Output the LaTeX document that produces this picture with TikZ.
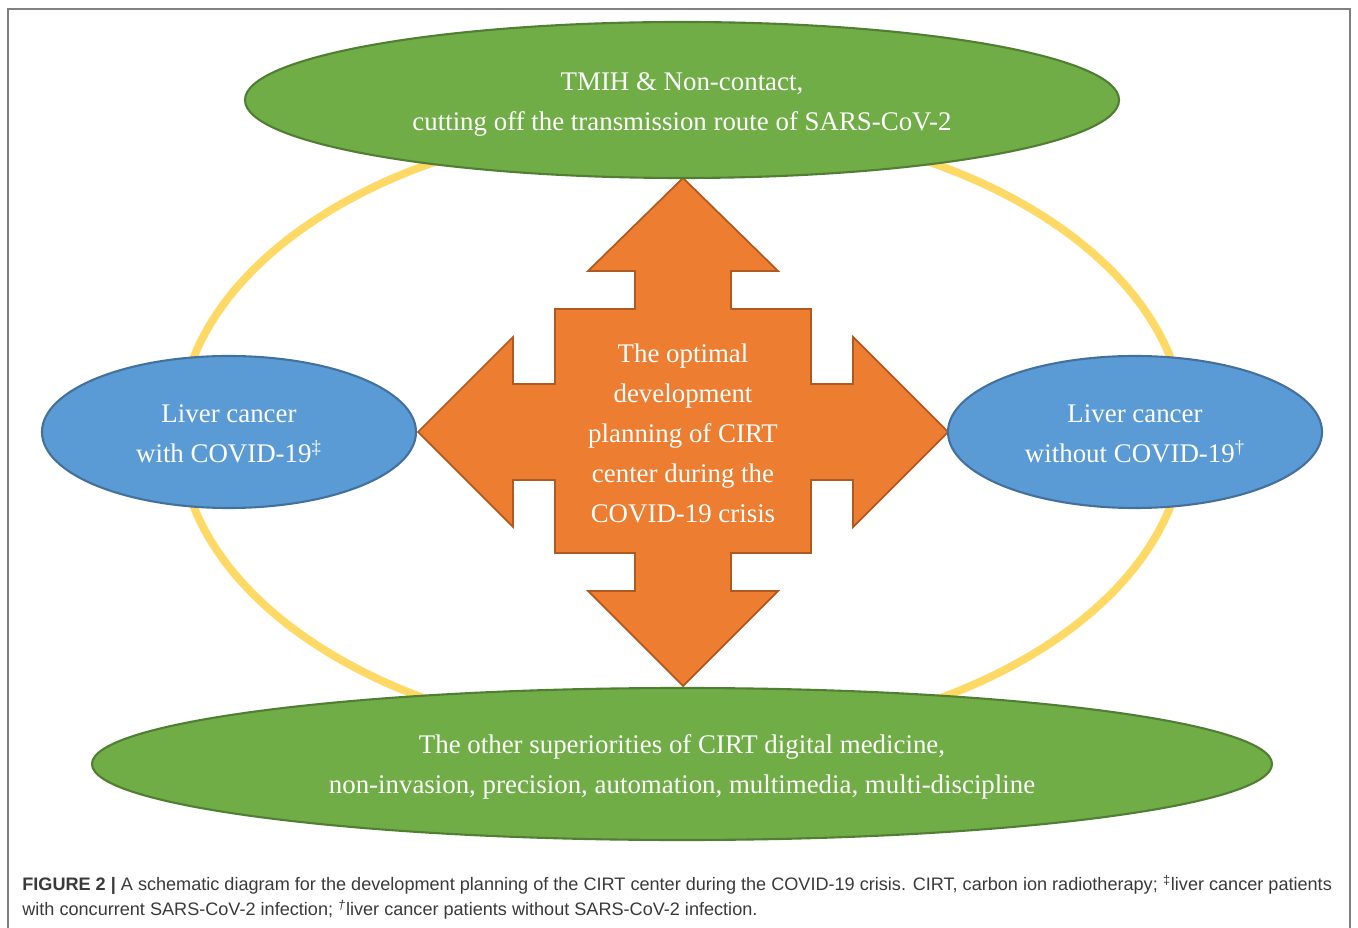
\documentclass[tikz,border=0pt]{standalone}
\usepackage{fontspec}
\setmainfont{Liberation Serif}
\setsansfont{Liberation Sans}
\definecolor{leafgreen}{HTML}{70AD47}
\definecolor{leafedge}{HTML}{507E32}
\definecolor{skyblue}{HTML}{5B9BD5}
\definecolor{skyedge}{HTML}{41719C}
\definecolor{planorange}{HTML}{ED7D31}
\definecolor{planedge}{HTML}{AE5A21}
\definecolor{ringyellow}{HTML}{FFD966}
\definecolor{captiongray}{HTML}{3A3A3A}
\tikzset{
  boxtext/.style={text=white, align=center, font=\fontsize{15.3}{22.8}\selectfont, inner sep=0pt},
  greenbox/.style={fill=leafgreen, draw=leafedge, line width=1.2pt},
  bluebox/.style={fill=skyblue, draw=skyedge, line width=1.2pt},
}
\begin{document}
\begin{tikzpicture}[x=0.02cm,y=-0.02cm]
\useasboundingbox (0,0) rectangle (1358,928);
% Frame
\draw[gray, line width=1pt] (8,935) -- (8,9) -- (1350,9) -- (1350,935);
% Yellow ring
\draw[ringyellow, line width=4.5pt] (682,432) ellipse [x radius=503, y radius=310];
% Four-way arrow
\filldraw[fill=planorange, draw=planedge, line width=1pt, line join=miter]
  (683,178) -- (778,271) -- (731,271) -- (731,309) -- (811,309) -- (811,384)
  -- (853,384) -- (853,337) -- (948,432) -- (853,527) -- (853,480) -- (811,480)
  -- (811,553) -- (731,553) -- (731,591) -- (778,591) -- (683,686) -- (588,591)
  -- (635,591) -- (635,553) -- (555,553) -- (555,480) -- (513,480) -- (513,527)
  -- (418,432) -- (513,337) -- (513,384) -- (555,384) -- (555,309) -- (635,309)
  -- (635,271) -- (588,271) -- cycle;
\node[boxtext] (planning) at (683,433) {The optimal\\development\\planning of CIRT\\center during the\\COVID-19 crisis};
% Ellipses
\filldraw[greenbox] (682,100) ellipse [x radius=437, y radius=78];
\node[boxtext] (noncontact) at (682,104) {TMIH \& Non-contact,\\cutting off the transmission route of SARS-CoV-2};
\filldraw[greenbox] (682,764) ellipse [x radius=590, y radius=76];
\node[boxtext] (superiority) at (682,767) {The other superiorities of CIRT digital medicine,\\non-invasion, precision, automation, multimedia, multi-discipline};
\filldraw[bluebox] (229,432) ellipse [x radius=187, y radius=76];
\node[boxtext] (withcovid) at (229,434) {Liver cancer\\with COVID-19\textsuperscript{‡}};
\filldraw[bluebox] (1135,432) ellipse [x radius=187, y radius=76];
\node[boxtext] (withoutcovid) at (1135,434) {Liver cancer\\without COVID-19\textsuperscript{†}};
% Caption
\node[anchor=north west, align=left, inner sep=0pt, text=captiongray,
  font=\sffamily\fontsize{10.3}{14.2}\selectfont] (caption) at (22,875)
  {\textbf{FIGURE 2 |} A schematic diagram for the development planning of the CIRT center during the COVID-19 crisis. CIRT, carbon ion radiotherapy; \textsuperscript{‡}liver cancer patients\\
   with concurrent SARS-CoV-2 infection; \textsuperscript{\textit{†}}liver cancer patients without SARS-CoV-2 infection.};
\end{tikzpicture}
\end{document}
